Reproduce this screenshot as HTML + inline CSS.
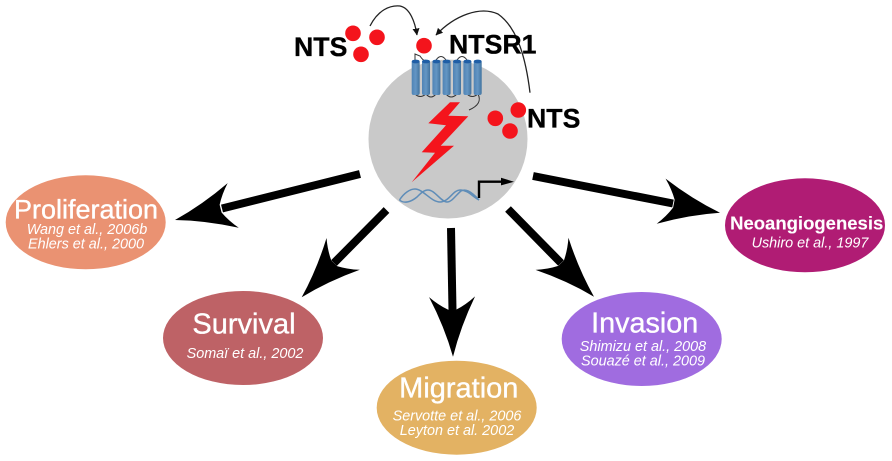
<!DOCTYPE html>
<html>
<head>
<meta charset="utf-8">
<style>
html,body{margin:0;padding:0;background:#fff;}
svg{display:block;filter:blur(0.35px);}
text{font-family:"Liberation Sans",sans-serif;}
.t{fill:#fff;stroke:#fff;stroke-width:0.35;text-anchor:middle;}
.r{fill:#fff;text-anchor:middle;font-style:italic;font-size:14.4px;}
.b{fill:#000;stroke:#000;stroke-width:0.3;font-weight:bold;font-size:26.7px;}
.c{fill:url(#cyl);}
.cap{fill:#1f5ea6;}
</style>
</head>
<body>
<svg width="892" height="461" viewBox="0 0 892 461" xmlns="http://www.w3.org/2000/svg">
<defs>
<linearGradient id="cyl" x1="0" x2="1" y1="0" y2="0">
<stop offset="0" stop-color="#4f83b5"/>
<stop offset="0.5" stop-color="#6496c4"/>
<stop offset="1" stop-color="#42739f"/>
</linearGradient>
<marker id="thin" markerWidth="9" markerHeight="8" refX="6.5" refY="3.5" orient="auto" markerUnits="userSpaceOnUse">
<path d="M0,0 L7,3.5 L0,7 Z" fill="#111"/>
</marker>
</defs>
<rect width="892" height="461" fill="#fff"/>

<circle cx="448" cy="139" r="79.5" fill="#c9c9c9"/>

<!-- cell response arrows -->
<g stroke="#000" stroke-width="8" fill="none">
<line x1="360" y1="174" x2="222" y2="208.5"/>
<line x1="386.5" y1="210" x2="334" y2="263"/>
<line x1="451" y1="228" x2="452.5" y2="310"/>
<line x1="508" y1="209" x2="561" y2="263"/>
<line x1="533" y1="176" x2="673" y2="203.5"/>
</g>
<g fill="#000">
<path transform="translate(175,220) rotate(-14)" d="M0,0 Q30,-8 60,-23 Q52,-14 47,-4 L47,4 Q52,14 60,23 Q30,8 0,0 Z"/>
<path transform="translate(301.7,297.3) rotate(-46.3)" d="M0,0 Q30,-8 60,-23 Q52,-14 47,-4 L47,4 Q52,14 60,23 Q30,8 0,0 Z"/>
<path transform="translate(453,356.7) rotate(-90.9)" d="M0,0 Q30,-8 60,-23 Q52,-14 47,-4 L47,4 Q52,14 60,23 Q30,8 0,0 Z"/>
<path transform="translate(594,296.7) rotate(-134.4)" d="M0,0 Q30,-8 60,-23 Q52,-14 47,-4 L47,4 Q52,14 60,23 Q30,8 0,0 Z"/>
<path transform="translate(720,212.7) rotate(191.1)" d="M0,0 Q30,-8 60,-23 Q52,-14 47,-4 L47,4 Q52,14 60,23 Q30,8 0,0 Z"/>
</g>

<!-- ellipses -->
<ellipse cx="85.7" cy="222.3" rx="80" ry="47" fill="#ea9272"/>
<ellipse cx="243" cy="338" rx="80" ry="47" fill="#be6266"/>
<ellipse cx="456.7" cy="407.7" rx="80" ry="47" fill="#e3b263"/>
<ellipse cx="641.7" cy="339" rx="80" ry="47" fill="#a06ce0"/>
<ellipse cx="805" cy="225.3" rx="80" ry="47" fill="#b01c74"/>

<text class="t" x="86" y="218.3" font-size="27">Proliferation</text>
<text class="r" x="87" y="234">Wang et al., 2006b</text>
<text class="r" x="86" y="248.3">Ehlers et al., 2000</text>

<text class="t" x="244" y="333.3" font-size="29">Survival</text>
<text class="r" x="245" y="358">Somaï et al., 2002</text>

<text class="t" x="458.8" y="397.3" font-size="29">Migration</text>
<text class="r" x="457" y="420.7">Servotte et al., 2006</text>
<text class="r" x="457" y="435">Leyton et al. 2002</text>

<text class="t" x="644.7" y="332.7" font-size="28.8">Invasion</text>
<text class="r" x="643" y="351">Shimizu et al., 2008</text>
<text class="r" x="643" y="365.3">Souazé et al., 2009</text>

<text class="t" x="806.7" y="229.3" font-size="18.5" font-weight="bold" style="stroke-width:0.1">Neoangiogenesis</text>
<text class="r" x="810" y="247.7">Ushiro et al., 1997</text>

<!-- receptor loops -->
<g fill="none" stroke="#333" stroke-width="1">
<path d="M415,62 L415,54 L420,56 Q424,62 426,60"/>
<path d="M436,60 Q441,53 446,60"/>
<path d="M457,60 Q462,53 467,60"/>
<path d="M426,94 Q431,100 436,94"/>
<path d="M446,94 Q451,100 457,94"/>
<path d="M415,94 Q420,99 426,94"/>
<path d="M467,94 Q472,99 478,94"/>
<path d="M478,94 Q483,104 469,110"/>
</g>
<!-- receptor -->
<g>
<rect class="c" x="411.7" y="60" width="8" height="35" rx="2"/>
<rect class="c" x="422" y="60" width="8" height="35" rx="2"/>
<rect class="c" x="432.4" y="60" width="8" height="35" rx="2"/>
<rect class="c" x="442.6" y="60" width="8" height="35" rx="2"/>
<rect class="c" x="453" y="60" width="8" height="35" rx="2"/>
<rect class="c" x="463.4" y="60" width="8" height="35" rx="2"/>
<rect class="c" x="473.7" y="60" width="8" height="35" rx="2"/>
<ellipse class="cap" cx="415.7" cy="61.5" rx="3.9" ry="1.9"/>
<ellipse class="cap" cx="426" cy="61.5" rx="3.9" ry="1.9"/>
<ellipse class="cap" cx="436.4" cy="61.5" rx="3.9" ry="1.9"/>
<ellipse class="cap" cx="446.6" cy="61.5" rx="3.9" ry="1.9"/>
<ellipse class="cap" cx="457" cy="61.5" rx="3.9" ry="1.9"/>
<ellipse class="cap" cx="467.4" cy="61.5" rx="3.9" ry="1.9"/>
<ellipse class="cap" cx="477.7" cy="61.5" rx="3.9" ry="1.9"/>
</g>

<!-- lightning -->
<polygon fill="#f4141c" points="450,102.3 460,102.3 448.3,115.7 468.3,116.3 440.7,145.7 454,145.7 411.7,182.3 435,152.7 421.7,152.3 446,125.3 428.3,123.3"/>

<!-- DNA -->
<g fill="none" stroke="#5f8db8" stroke-width="1.5">
<path d="M399.5,200 C404,193 410,189 415,189 C423,189 431,202 440,202 C449,202 453,190 460,190 C468,190 473,197 479,200"/>
<path d="M399.5,200 C404,204 411,202 417,197 C421,193 424,190 428,190 C435,190 441,202 447,202 C452,202 456,195 461,191 C465,189 470,190 479,200"/>
</g>
<path d="M479,198 L479,181.7 L503,181.7" fill="none" stroke="#000" stroke-width="2.4"/>
<path d="M501,177.8 L514,181.7 L501,185.4 Z" fill="#000"/>

<!-- thin curved arrows -->
<g fill="none" stroke="#222" stroke-width="1.3">
<path d="M370,26 C378,10 390,5 400,6 C410,8 415,22 417,35" marker-end="url(#thin)"/>
<path d="M530,92.7 C526,60 518,28 498,14 C480,6 455,15 436,35" marker-end="url(#thin)"/>
</g>

<!-- ligand -->
<g fill="#f4141c">
<circle cx="353" cy="33.3" r="7.8"/>
<circle cx="377" cy="37.3" r="7.8"/>
<circle cx="361" cy="54.3" r="7.8"/>
<circle cx="424" cy="45.7" r="7.8"/>
<circle cx="518.3" cy="110" r="7.8"/>
<circle cx="495.3" cy="118.3" r="7.8"/>
<circle cx="510" cy="131" r="7.8"/>
</g>

<text class="b" x="294" y="56">NTS</text>
<text class="b" x="449" y="53.3">NTSR1</text>
<text class="b" x="527" y="127.3">NTS</text>
</svg>
</body>
</html>
